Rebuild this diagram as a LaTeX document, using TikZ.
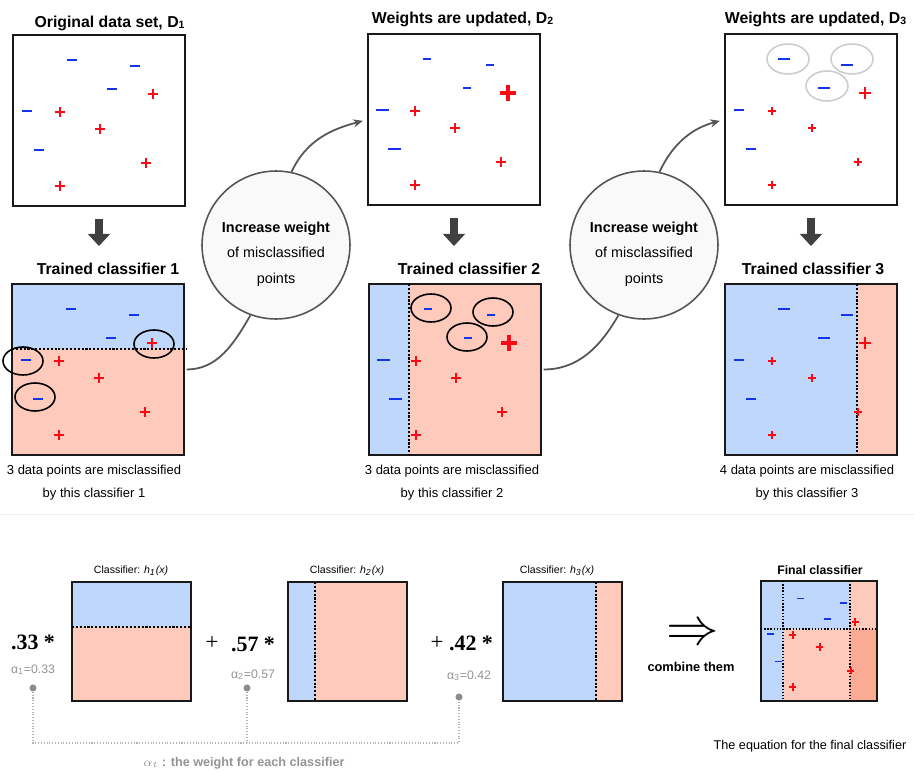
\documentclass[tikz,border=0pt]{standalone}
\usepackage{fontspec}
\setmainfont{Liberation Sans}
\newfontfamily\timesfont{Liberation Serif}
\usetikzlibrary{positioning,arrows.meta}

\definecolor{negblue}{RGB}{20,50,240}
\definecolor{posred}{RGB}{250,10,20}
\definecolor{negzone}{RGB}{190,215,250}
\definecolor{poszone}{RGB}{253,202,188}
\definecolor{poszonedark}{RGB}{251,170,148}
\definecolor{ringgray}{RGB}{205,205,205}
\definecolor{flowgray}{RGB}{85,85,85}
\definecolor{bubblefill}{RGB}{249,249,249}

% one data point: x, y, half length, line width
\newcommand{\negpt}[4]{\draw[negblue, line width=#4] (#1-#3,#2) -- (#1+#3,#2);}
\newcommand{\pospt}[4]{\draw[posred, line width=#4] (#1-#3,#2) -- (#1+#3,#2) (#1,#2-#3) -- (#1,#2+#3);}
% the ten points of the data set
\newcommand{\dataset}[4]{%
  \foreach \x/\y in {59/25,122/31,99/54} {\negpt{\x}{\y}#1}
  \foreach \x/\y in {14/76,26/115} {\negpt{\x}{\y}#2}
  \pospt{140}{59}#3
  \foreach \x/\y in {47/77,87/94,133/128,47/151} {\pospt{\x}{\y}#4}
}

\begin{document}
\begin{tikzpicture}[x=0.02cm, y=-0.02cm,
  panel/.style={draw=black!90, line width=1.3pt, minimum width=3.44cm, minimum height=3.42cm, inner sep=0pt, outer sep=0pt, anchor=north west},
  smallpanel/.style={panel, minimum width=2.38cm, minimum height=2.38cm},
  finalpanel/.style={panel, minimum width=2.32cm, minimum height=2.4cm},
  heading/.style={font=\fontsize{9}{11}\selectfont\bfseries, anchor=base, inner sep=0pt},
  note/.style={font=\fontsize{7.4}{13.1}\selectfont, align=center, inner sep=0pt},
  bubble/.style={circle, draw=flowgray, fill=bubblefill, line width=0.9pt, minimum size=2.96cm, inner sep=0pt},
  bubbletext/.style={font=\fontsize{8.2}{14.5}\selectfont, align=center, inner sep=0pt},
  flow/.style={draw=flowgray, line width=1pt},
  fatarrow/.style={draw=black!75, line width=4.5pt, -{Triangle[length=7pt,width=12.5pt]}},
  split/.style={densely dotted, line width=1.2pt},
  thinsplit/.style={densely dotted, line width=0.8pt},
  ring/.style={draw=black, line width=0.9pt},
  fadedring/.style={draw=ringgray, line width=0.9pt},
  hlabel/.style={font=\fontsize{6}{7}\selectfont, anchor=base, inner sep=0pt},
  weight/.style={font=\timesfont\bfseries\fontsize{12.5}{14}\selectfont, anchor=base, inner sep=0pt},
  plussign/.style={font=\timesfont\fontsize{13}{14}\selectfont, anchor=base, inner sep=0pt},
  alpha/.style={font=\fontsize{7}{8}\selectfont, text=black!42, anchor=base, inner sep=0pt},
  wdot/.style={circle, fill=black!45, minimum size=4pt, inner sep=0pt},
  wline/.style={draw=black!30, densely dotted, line width=0.6pt}]

  \useasboundingbox (0,0) rectangle (914,771);

  % top row: weighted data sets
  \begin{scope}[shift={(13,35)}]
    \node[panel] (D1) at (0,0) {};
    \dataset{{5}{1.4pt}}{{5}{1.4pt}}{{5.3}{1.4pt}}{{5.3}{1.4pt}}
  \end{scope}
  \begin{scope}[shift={(368,34)}]
    \node[panel] (D2) at (0,0) {};
    \dataset{{3.8}{0.9pt}}{{6.5}{1.7pt}}{{8}{1.9pt}}{{4.7}{1.1pt}}
  \end{scope}
  \begin{scope}[shift={(725,34)}]
    \node[panel] (D3) at (0,0) {};
    \foreach \x/\y in {63/25,127/25,102/52} \draw[fadedring] (\x,\y) ellipse [x radius=21, y radius=15];
    \dataset{{6}{1.6pt}}{{5.3}{1.5pt}}{{6.3}{1.7pt}}{{4}{1pt}}
  \end{scope}

  \node[heading] (tD1) at (110,27) {Original data set, D\textsubscript{1}};
  \node[heading] (tD2) at (463,23) {Weights are updated, D\textsubscript{2}};
  \node[heading] (tD3) at (816,23) {Weights are updated, D\textsubscript{3}};

  % trained classifiers
  \begin{scope}[shift={(12,284)}]
    \fill[negzone] (0,0) rectangle (172,65);
    \fill[poszone] (0,65) rectangle (172,171);
    \node[panel] (C1) at (0,0) {};
    \draw[split] (0,65) -- (175,65);
    \dataset{{5}{1.4pt}}{{5}{1.4pt}}{{5.3}{1.4pt}}{{5.3}{1.4pt}}
    \draw[ring] (142,60) ellipse [x radius=20, y radius=14];
    \draw[ring] (11,77) ellipse [x radius=20, y radius=14];
    \draw[ring] (23,113) ellipse [x radius=20, y radius=14];
  \end{scope}
  \begin{scope}[shift={(369,284)}]
    \fill[negzone] (0,0) rectangle (40,171);
    \fill[poszone] (40,0) rectangle (172,171);
    \node[panel] (C2) at (0,0) {};
    \draw[split] (40,0) -- (40,171);
    \dataset{{3.8}{0.9pt}}{{6.5}{1.7pt}}{{8}{1.9pt}}{{4.7}{1.1pt}}
    \draw[ring] (62,24) ellipse [x radius=20, y radius=14];
    \draw[ring] (124,28) ellipse [x radius=20, y radius=14];
    \draw[ring] (98,53) ellipse [x radius=20, y radius=14];
  \end{scope}
  \begin{scope}[shift={(725,284)}]
    \fill[negzone] (0,0) rectangle (132,171);
    \fill[poszone] (132,0) rectangle (172,171);
    \node[panel] (C3) at (0,0) {};
    \draw[split] (132,0) -- (132,171);
    \dataset{{6}{1.6pt}}{{5.3}{1.5pt}}{{6.3}{1.7pt}}{{4}{1pt}}
  \end{scope}

  \node[heading] (tC1) at (108,274) {Trained classifier 1};
  \node[heading] (tC2) at (469,274) {Trained classifier 2};
  \node[heading] (tC3) at (813,274) {Trained classifier 3};

  \node[note] (nC1) at (94,483) {3 data points are misclassified\\by this classifier 1};
  \node[note] (nC2) at (452,483) {3 data points are misclassified\\by this classifier 2};
  \node[note] (nC3) at (807,483) {4 data points are misclassified\\by this classifier 3};

  \foreach \p in {1,2,3}
    \draw[fatarrow, shorten <=7.4pt, shorten >=21.6pt] (D\p.south) -- (D\p.south |- C\p.north);

  % reweighting bubbles
  \node[bubble] (c1) at (276,245) {};
  \node[bubble] (c2) at (644,245) {};
  \node[bubbletext] (c1txt) at (276,254) {\textbf{Increase weight}\\of misclassified\\points};
  \node[bubbletext] (c2txt) at (644,254) {\textbf{Increase weight}\\of misclassified\\points};
  \draw[flow, shorten <=1.5pt] (C1.east) to[out=0, in=240] (c1.250);
  \draw[flow, shorten >=3pt, -{Stealth[length=5.5pt,width=4.6pt]}] (c1.78) to[out=65, in=195] (D2.west);
  \draw[flow, shorten <=1.5pt] (C2.east) to[out=0, in=240] (c2.250);
  \draw[flow, shorten >=3pt, -{Stealth[length=5.5pt,width=4.6pt]}] (c2.78) to[out=65, in=195] (D3.west);

  \draw[black!6] (0,514) -- (914,514);

  % weighted sum of the classifiers
  \begin{scope}[shift={(72,582)}]
    \fill[negzone] (0,0) rectangle (119,45);
    \fill[poszone] (0,45) rectangle (119,119);
    \node[smallpanel] (h1) at (0,0) {};
    \draw[split] (0,45) -- (119,45);
  \end{scope}
  \begin{scope}[shift={(288,582)}]
    \fill[negzone] (0,0) rectangle (27,119);
    \fill[poszone] (27,0) rectangle (119,119);
    \node[smallpanel] (h2) at (0,0) {};
    \draw[split] (27,0) -- (27,119);
  \end{scope}
  \begin{scope}[shift={(503,582)}]
    \fill[negzone] (0,0) rectangle (93,119);
    \fill[poszone] (93,0) rectangle (119,119);
    \node[smallpanel] (h3) at (0,0) {};
    \draw[split] (93,0) -- (93,119);
  \end{scope}

  \node[hlabel] (lh1) at (131,573) {Classifier: \textit{h}\textsubscript{\textit{1}}\textit{(x)}};
  \node[hlabel] (lh2) at (347,573) {Classifier: \textit{h}\textsubscript{\textit{2}}\textit{(x)}};
  \node[hlabel] (lh3) at (557,573) {Classifier: \textit{h}\textsubscript{\textit{3}}\textit{(x)}};

  \node[weight] (w1) at (33,649) {.33 *};
  \node[plussign] (s1) at (212,649) {+};
  \node[weight] (w2) at (253,651) {.57 *};
  \node[plussign] (s2) at (437,649) {+};
  \node[weight] (w3) at (471,650) {.42 *};

  \node[alpha] (al1) at (33,673) {α\textsubscript{1}=0.33};
  \node[alpha] (al2) at (253,678) {α\textsubscript{2}=0.57};
  \node[alpha] (al3) at (469,679) {α\textsubscript{3}=0.42};

  \node[wdot] (a1) at (33,688) {};
  \node[wdot] (a2) at (247,688) {};
  \node[wdot] (a3) at (459,697) {};
  \coordinate (wbase) at (246,743);
  \draw[wline] (a1) |- (wbase) -| (a3);
  \draw[wline] (a2) -- (a2 |- wbase);
  \node[font=\fontsize{7.2}{9}\selectfont\bfseries, text=black!42, anchor=base, inner sep=0pt] (wnote) at (244,766) {$\alpha_t$ : the weight for each classifier};

  % combination
  \node[inner sep=0pt] (impl) at (693,635) {\scalebox{1.2}{\Huge$\Rightarrow$}};
  \node[font=\fontsize{7.3}{9}\selectfont\bfseries, anchor=base, inner sep=0pt] (comb) at (691,671) {combine them};

  \begin{scope}[shift={(761,581)}]
    \fill[negzone] (0,0) rectangle (22,120);
    \fill[negzone] (22,0) rectangle (89,48);
    \fill[poszone] (89,0) rectangle (116,48);
    \fill[poszone] (22,48) rectangle (89,120);
    \fill[poszonedark] (89,48) rectangle (116,120);
    \node[finalpanel] (F) at (0,0) {};
    \draw[thinsplit] (22,0) -- (22,120) (89,0) -- (89,120) (0,48) -- (116,48);
    \begin{scope}[xscale=0.674, yscale=0.70]
      \dataset{{5.5}{1.1pt}}{{5.5}{1.1pt}}{{5.5}{1.1pt}}{{5.5}{1.1pt}}
    \end{scope}
  \end{scope}
  \node[font=\fontsize{7}{9}\selectfont\bfseries, anchor=base, inner sep=0pt] (tF) at (820,574) {Final classifier};
  \node[font=\fontsize{7.2}{9}\selectfont, anchor=base, inner sep=0pt] (eq) at (810,749) {The equation for the final classifier};
\end{tikzpicture}
\end{document}
